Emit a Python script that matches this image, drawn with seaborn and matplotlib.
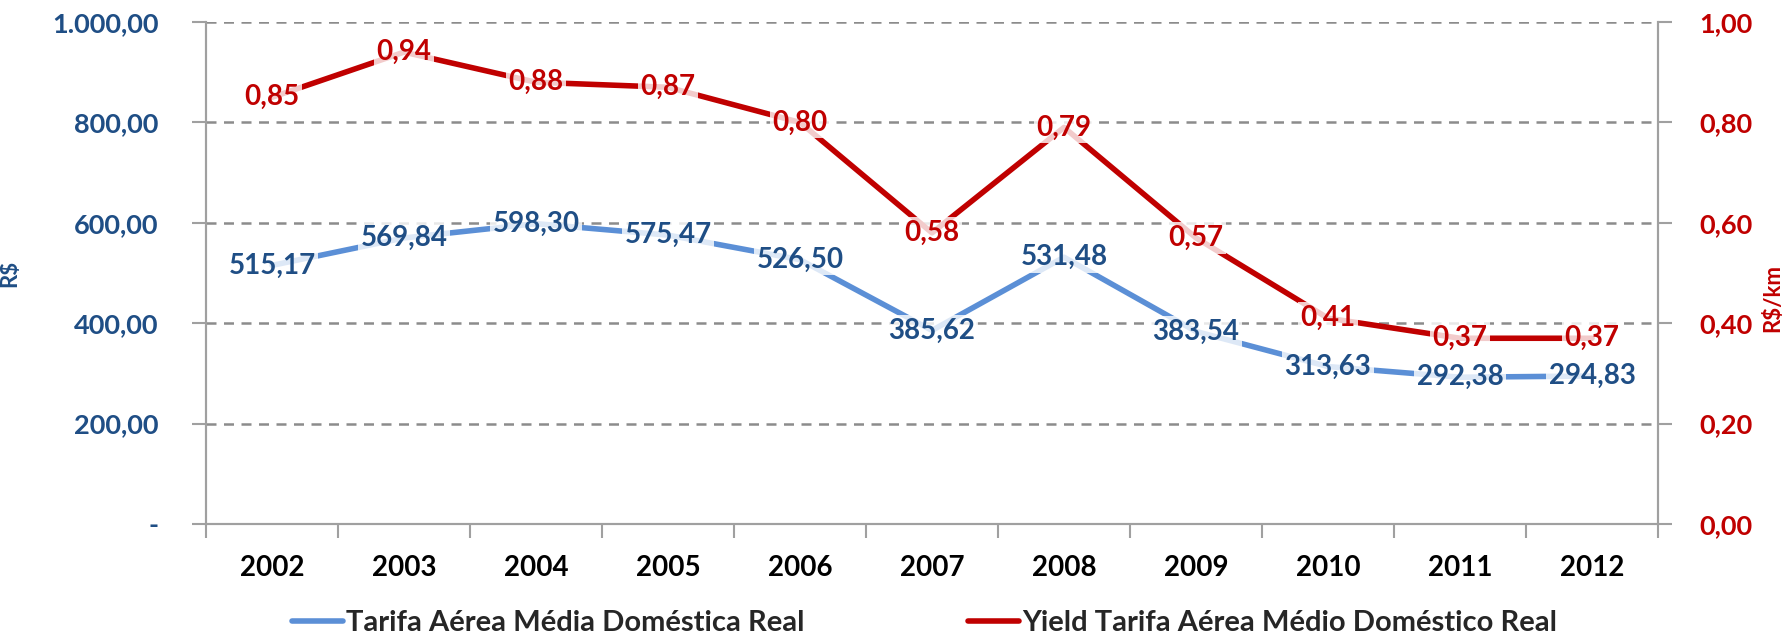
import matplotlib
matplotlib.use("Agg")
import matplotlib.pyplot as plt
import seaborn as sns
import pandas as pd
import numpy as np
from matplotlib.ticker import FixedLocator

years = ["2002", "2003", "2004", "2005", "2006", "2007", "2008", "2009", "2010", "2011", "2012"]
tarifa = [515.17, 569.84, 598.30, 575.47, 526.50, 385.62, 531.48, 383.54, 313.63, 292.38, 294.83]
yield_ = [0.85, 0.94, 0.88, 0.87, 0.80, 0.58, 0.79, 0.57, 0.41, 0.37, 0.37]
left_ticks = [0, 200, 400, 600, 800, 1000]
left_labels = ["-", "200,00", "400,00", "600,00", "800,00", "1.000,00"]
right_ticks = [0.0, 0.2, 0.4, 0.6, 0.8, 1.0]
right_labels = ["0,00", "0,20", "0,40", "0,60", "0,80", "1,00"]
name_blue = "Tarifa Aérea Média Doméstica Real"
name_red = "Yield Tarifa Aérea Médio Doméstico Real"

sns.set_theme(style="white")
plt.rcParams["font.family"] = ["Lato", "DejaVu Sans"]

BLUE_LINE = "#5B8FD6"
BLUE_TXT = "#1F4E85"
RED = "#C00000"
GRAY = "#A0A0A0"

df = pd.DataFrame({"x": np.arange(len(years)), "tarifa": tarifa, "yield": yield_})

fig = plt.figure(figsize=(17.85, 6.40), dpi=100)
ax = fig.add_axes([206/1785, 1-524/640, (1658-206)/1785, (524-22)/640])
ax2 = ax.twinx()

sns.lineplot(data=df, x="x", y="tarifa", ax=ax, color=BLUE_LINE, linewidth=4, label=name_blue, legend=False)
sns.lineplot(data=df, x="x", y="yield", ax=ax2, color=RED, linewidth=4, label=name_red, legend=False)

ax.set_xlim(-0.5, len(years) - 0.5)
ax.set_ylim(0, 1000)
ax2.set_ylim(0, 1.0)

ax.set_xticks(np.arange(len(years)))
ax.set_xticklabels(years, fontsize=20, fontweight="bold", color="black")
ax.xaxis.set_minor_locator(FixedLocator(np.arange(-0.5, len(years), 1.0)))
ax.tick_params(axis="x", which="major", length=0, pad=22)
ax.tick_params(axis="x", which="minor", length=10, width=1.5, color=GRAY, direction="out", bottom=True)

ax.set_yticks(left_ticks)
ax.set_yticklabels(left_labels, fontsize=19.5, fontweight="bold", color=BLUE_TXT)
ax.tick_params(axis="y", length=10, width=1.5, color=GRAY, direction="out", left=True, pad=24)
ax2.set_yticks(right_ticks)
ax2.set_yticklabels(right_labels, fontsize=19.5, fontweight="bold", color=RED)
ax2.tick_params(axis="y", length=10, width=1.5, color=GRAY, direction="out", right=True, pad=20)

ax.grid(axis="y", color="#8C8C8C", linestyle=(0, (4, 3)), linewidth=1.8)
ax.grid(axis="x", visible=False)
ax2.grid(False)

for a in (ax, ax2):
    a.spines["top"].set_visible(False)
    for s in ("left", "right", "bottom"):
        a.spines[s].set_color(GRAY)
        a.spines[s].set_linewidth(1.5)

ax.set_xlabel("")
ax.set_ylabel("R$", fontsize=16, fontweight="bold", color=BLUE_TXT)
ax.yaxis.set_label_coords(-0.128, 0.5)
ax2.set_ylabel("R$/km", fontsize=16, fontweight="bold", color=RED)
ax2.yaxis.set_label_coords(1.072, 0.45)

bbox = dict(boxstyle="square,pad=0.1", facecolor="white", edgecolor="none", alpha=0.8)
for i, v in enumerate(tarifa):
    ax.text(i, v, f"{v:.2f}".replace(".", ","), ha="center", va="center", fontsize=20,
            color=BLUE_TXT, fontweight="bold", bbox=bbox, zorder=5)
for i, v in enumerate(yield_):
    ax2.text(i, v, f"{v:.2f}".replace(".", ","), ha="center", va="center", fontsize=20,
             color=RED, fontweight="bold", bbox=bbox, zorder=5)

h1, l1 = ax.get_legend_handles_labels()
h2, l2 = ax2.get_legend_handles_labels()
fig.legend(h1 + h2, l1 + l2, loc="center", bbox_to_anchor=(0.518, 0.026), ncol=2,
           frameon=False, handlelength=1.75, handletextpad=0.1, columnspacing=5.6,
           prop={"weight": "bold", "size": 21})

fig.savefig("out.png", dpi=100)
